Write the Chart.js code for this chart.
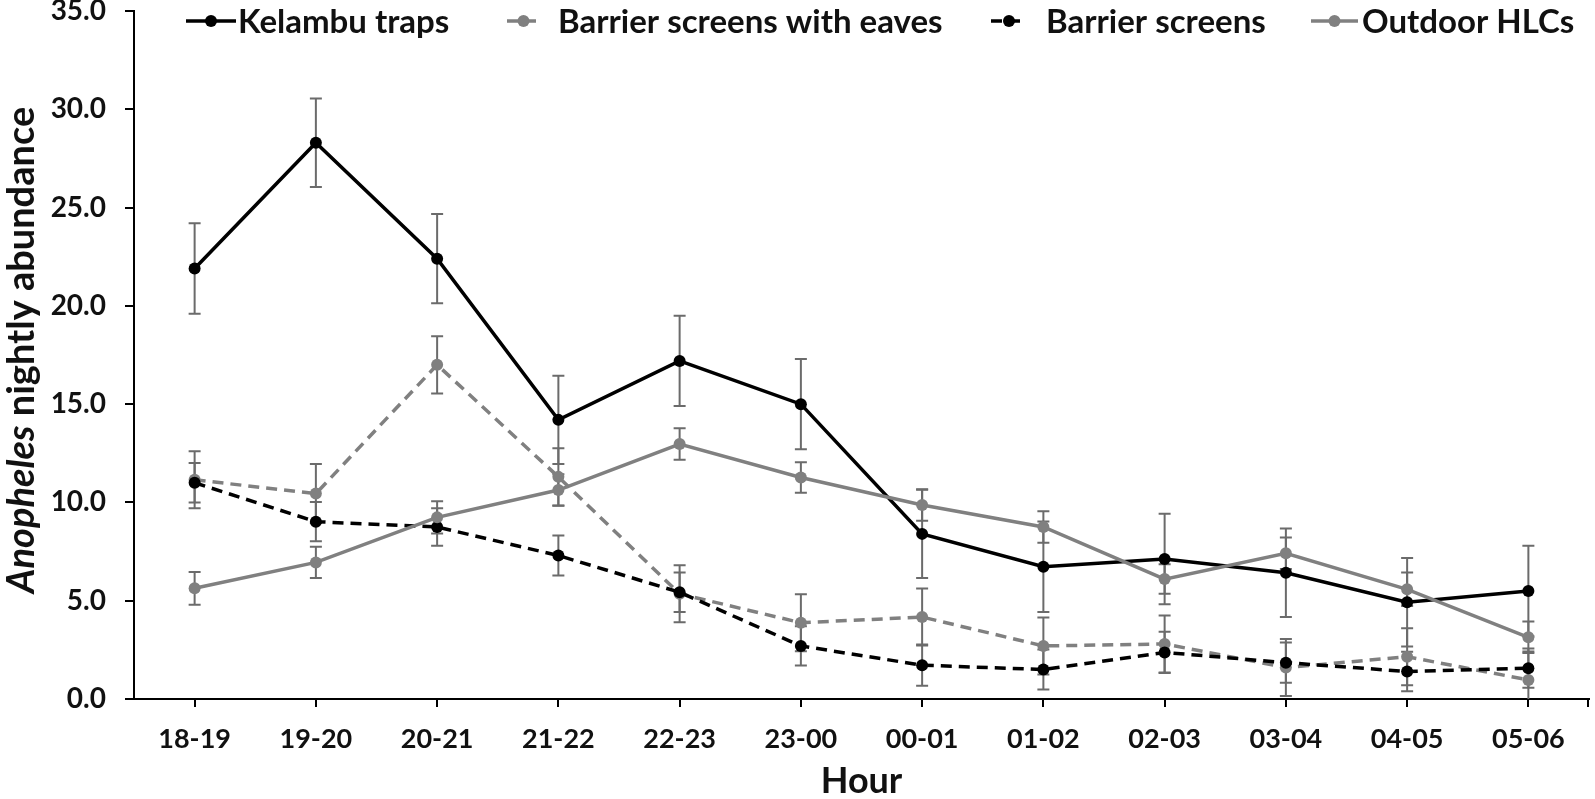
<!DOCTYPE html>
<html>
<head>
<meta charset="utf-8">
<script src="https://cdn.jsdelivr.net/npm/chart.js@4"></script>
<style>
  html, body { margin: 0; padding: 0; background: #fff; }
  canvas { display: block; }
</style>
</head>
<body>
<canvas id="chart" width="1595" height="799"></canvas>
<script>
// data
const hours = ["18-19", "19-20", "20-21", "21-22", "22-23", "23-00", "00-01", "01-02", "02-03", "03-04", "04-05", "05-06"];

const kelambu    = [21.9, 28.3, 22.4, 14.2, 17.2, 15.0, 8.4, 6.73, 7.12, 6.42, 4.92, 5.49];
const kelambuErr = [2.3, 2.25, 2.27, 2.25, 2.3, 2.3, 2.25, 2.3, 2.3, 2.25, 2.25, 2.3];

const eaves    = [11.15, 10.45, 17.0, 11.3, 5.35, 3.88, 4.17, 2.7, 2.8, 1.6, 2.15, 0.97];
const eavesErr = [1.45, 1.5, 1.46, 1.45, 1.45, 1.45, 1.45, 1.45, 1.45, 1.45, 1.45, 1.45];

const screens    = [11.0, 9.02, 8.75, 7.3, 5.43, 2.7, 1.72, 1.5, 2.37, 1.85, 1.4, 1.57];
const screensErr = [1.0, 1.0, 0.95, 1.02, 1.0, 1.0, 1.05, 1.02, 1.05, 1.02, 1.0, 1.0];

const outdoor    = [5.63, 6.95, 9.24, 10.63, 12.97, 11.27, 9.87, 8.75, 6.1, 7.41, 5.58, 3.14];
const outdoorErr = [0.83, 0.8, 0.82, 0.8, 0.8, 0.78, 0.8, 0.8, 0.75, 0.8, 0.85, 0.8];

const yTicks = [0, 5, 10, 15, 20, 25, 30, 35];

const BLACK = "#000000";
const GREY = "#808080";
const FONT = "Lato";

// error bars, drawn under the lines and markers
const errorBars = {
  id: "errorBars",
  beforeDatasetsDraw(chart) {
    const { ctx, chartArea, scales } = chart;
    ctx.save();
    ctx.beginPath();
    ctx.rect(chartArea.left, chartArea.top - 2, chartArea.right - chartArea.left, chartArea.bottom - chartArea.top + 2);
    ctx.clip();
    ctx.strokeStyle = "#6b6b6b";
    ctx.lineWidth = 2;
    chart.data.datasets.forEach((ds, i) => {
      const meta = chart.getDatasetMeta(i);
      ds.data.forEach((v, j) => {
        const x = meta.data[j].x;
        const top = scales.y.getPixelForValue(v + ds.err[j]);
        const bot = scales.y.getPixelForValue(v - ds.err[j]);
        ctx.beginPath();
        ctx.moveTo(x, top); ctx.lineTo(x, bot);
        ctx.moveTo(x - 6, top); ctx.lineTo(x + 6, top);
        ctx.moveTo(x - 6, bot); ctx.lineTo(x + 6, bot);
        ctx.stroke();
      });
    });
    ctx.restore();
  }
};

// legend row inside the top of the plot, the mixed-style y title, end tick on x axis
const extras = {
  id: "extras",
  afterDraw(chart, args, opts) {
    const { ctx, chartArea } = chart;
    ctx.save();

    ctx.strokeStyle = BLACK;
    ctx.lineWidth = 2;
    ctx.beginPath();
    ctx.moveTo(chartArea.right - 1, chartArea.bottom);
    ctx.lineTo(chartArea.right - 1, chartArea.bottom + 8);
    ctx.stroke();

    ctx.font = "bold 33px " + FONT;
    ctx.textBaseline = "middle";
    opts.items.forEach(it => {
      const ds = chart.data.datasets[it.ds];
      ctx.strokeStyle = ds.borderColor;
      ctx.lineWidth = 3.5;
      ctx.setLineDash(ds.borderDash || []);
      ctx.beginPath();
      ctx.moveTo(it.x0, opts.y);
      ctx.lineTo(it.x1, opts.y);
      ctx.stroke();
      ctx.setLineDash([]);
      ctx.fillStyle = ds.pointBackgroundColor;
      ctx.beginPath();
      ctx.arc((it.x0 + it.x1) / 2, opts.y, 6, 0, Math.PI * 2);
      ctx.fill();
      ctx.fillStyle = "#111";
      ctx.textAlign = "left";
      ctx.fillText(ds.label, it.tx, opts.y + 1);
    });

    // y axis title: "Anopheles" italic, rest upright
    const cy = (chartArea.top + chartArea.bottom) / 2 - 5;
    ctx.translate(opts.titleX, cy);
    ctx.rotate(-Math.PI / 2);
    const a = "Anopheles";
    const b = " nightly abundance";
    const fa = "italic bold 38px " + FONT;
    const fb = "bold 38px " + FONT;
    ctx.font = fa;
    const wa = ctx.measureText(a).width;
    ctx.font = fb;
    const wb = ctx.measureText(b).width;
    const x = -(wa + wb) / 2;
    ctx.textAlign = "left";
    ctx.font = fa;
    ctx.fillText(a, x, 0);
    ctx.font = fb;
    ctx.fillText(b, x + wa, 0);
    ctx.restore();
  }
};

const line = (label, data, err, color, dashed, order) => ({
  label: label,
  data: data,
  err: err,
  borderColor: color,
  backgroundColor: color,
  pointBackgroundColor: color,
  pointBorderWidth: 0,
  pointRadius: 6,
  pointHoverRadius: 6,
  borderWidth: 3.5,
  borderDash: dashed ? [11, 7] : [],
  tension: 0,
  fill: false,
  order: order
});

new Chart(document.getElementById("chart"), {
  type: "line",
  data: {
    labels: hours,
    datasets: [
      line("Kelambu traps", kelambu, kelambuErr, BLACK, false, 3),
      line("Barrier screens with eaves", eaves, eavesErr, GREY, true, 2),
      line("Barrier screens", screens, screensErr, BLACK, true, 1),
      line("Outdoor HLCs", outdoor, outdoorErr, GREY, false, 0)
    ]
  },
  options: {
    responsive: false,
    animation: false,
    layout: { padding: { top: 11, right: 3, left: 0, bottom: 0 } },
    plugins: {
      legend: { display: false },
      tooltip: { enabled: false },
      extras: {
        y: 21,
        titleX: 22,
        items: [
          { ds: 0, x0: 186, x1: 236, tx: 238 },
          { ds: 1, x0: 507, x1: 540, tx: 558 },
          { ds: 2, x0: 991, x1: 1027, tx: 1046 },
          { ds: 3, x0: 1311, x1: 1358, tx: 1362 }
        ]
      }
    },
    scales: {
      x: {
        offset: true,
        grid: { offset: false, drawOnChartArea: false, tickLength: 8, color: BLACK, lineWidth: 2 },
        border: { color: BLACK, width: 2 },
        ticks: {
          color: "#111",
          font: { family: FONT, weight: "bold", size: 27 },
          padding: 16,
          maxRotation: 0,
          autoSkip: false
        },
        title: {
          display: true,
          text: "Hour",
          color: "#111",
          font: { family: FONT, weight: "bold", size: 36, lineHeight: 1 },
          padding: { top: 0, bottom: 0 }
        },
        afterFit(s) { s.height = 100; s.paddingLeft = 0; s.paddingRight = 0; }
      },
      y: {
        min: 0,
        max: 35,
        afterBuildTicks(s) { s.ticks = yTicks.map(v => ({ value: v })); },
        grid: { drawOnChartArea: false, tickLength: 9, color: BLACK, lineWidth: 2 },
        border: { color: BLACK, width: 2 },
        ticks: {
          color: "#111",
          font: { family: FONT, weight: "bold", size: 28 },
          padding: 19,
          callback: v => Number(v).toFixed(1)
        },
        afterFit(s) { s.width = 134; s.paddingTop = 0; s.paddingBottom = 0; }
      }
    }
  },
  plugins: [errorBars, extras]
});
</script>
</body>
</html>
